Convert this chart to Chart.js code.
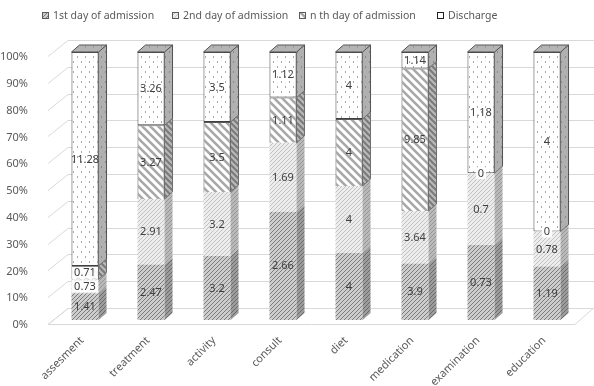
<!DOCTYPE html>
<html>
<head>
<meta charset="utf-8">
<script src="https://cdn.jsdelivr.net/npm/chart.js@4"></script>
<style>
  html, body { margin: 0; padding: 0; background: #ffffff; }
  #c { display: block; }
</style>
</head>
<body>
<canvas id="c" width="594" height="386"></canvas>
<script>
// Care-plan items and the amount recorded at each stage of the stay
const categories = ['assesment', 'treatment', 'activity', 'consult', 'diet', 'medication', 'examination', 'education'];
const firstDay  = [1.41, 2.47, 3.2, 2.66, 4, 3.9, 0.73, 1.19];
const secondDay = [0.73, 2.91, 3.2, 1.69, 4, 3.64, 0.7, 0.78];
const nthDay    = [0.71, 3.27, 3.5, 1.11, 4, 9.85, 0, 0];
const discharge = [11.28, 3.26, 3.5, 1.12, 4, 1.14, 1.18, 4];
const seriesNames = ['1st day of admission', '2nd day of admission', 'n th day of admission', 'Discharge'];
const percentTicks = [0, 10, 20, 30, 40, 50, 60, 70, 80, 90, 100];

const FONT = '"Noto Sans", "DejaVu Sans", sans-serif';
const canvas = document.getElementById('c');
const ctx = canvas.getContext('2d');

// ---- fill patterns -------------------------------------------------------
function tile(w, h, paint) {
  const c = document.createElement('canvas');
  c.width = w; c.height = h;
  paint(c.getContext('2d'), w, h);
  return ctx.createPattern(c, 'repeat');
}
function slash(bg, fg, s, lw) {           // "////"
  return tile(s, s, (g) => {
    g.fillStyle = bg; g.fillRect(0, 0, s, s);
    g.strokeStyle = fg; g.lineWidth = lw;
    g.beginPath();
    g.moveTo(0, s); g.lineTo(s, 0);
    g.moveTo(-1, 1); g.lineTo(1, -1);
    g.moveTo(s - 1, s + 1); g.lineTo(s + 1, s - 1);
    g.stroke();
  });
}
function backslash(bg, fg, s, lw) {       // "\\\\"
  return tile(s, s, (g) => {
    g.fillStyle = bg; g.fillRect(0, 0, s, s);
    g.strokeStyle = fg; g.lineWidth = lw;
    g.beginPath();
    g.moveTo(0, 0); g.lineTo(s, s);
    g.moveTo(s - 2, -2); g.lineTo(s + 2, 2);
    g.moveTo(-2, s - 2); g.lineTo(2, s + 2);
    g.stroke();
  });
}
function dots(bg, fg) {
  return tile(8, 10, (g) => {
    g.fillStyle = bg; g.fillRect(0, 0, 8, 10);
    g.fillStyle = fg;
    g.fillRect(1, 1, 1, 2);
    g.fillRect(5, 6, 1, 2);
  });
}

const fronts = [
  slash('#cdcdcd', '#7c7c7c', 4, 1),
  slash('#ededed', '#c2c2c2', 4, 1),
  backslash('#ffffff', '#a8a8a8', 8, 2.6),
  dots('#ffffff', '#a8a8a8')
];
const sides = [
  slash('#9c9c9c', '#6a6a6a', 4, 1),
  slash('#b9b9b9', '#969696', 4, 1),
  backslash('#b8b8b8', '#7a7a7a', 6, 2),
  dots('#b0b0b0', '#8a8a8a')
];
const topFace = dots('#b4b4b4', '#979797');
const borders = ['#8a8a8a', '#bdbdbd', '#5a5a5a', '#404040'];
const borderWidths = [0, 0, 1, 1];

// ---- share of each stage within its item (100% stacks) --------------------
const rawSeries = [firstDay, secondDay, nthDay, discharge];
const totals = categories.map((_, i) => rawSeries.reduce((s, arr) => s + arr[i], 0));
const shares = rawSeries.map(arr => arr.map((v, i) => v / totals[i] * 100));

// 3D offsets
const BAR_DX = 8, BAR_DY = 7;      // depth of each column
const WALL_BACK = 12;              // back wall sits this far above the column front
const FLOOR_FRONT = 4;             // floor front edge sits this far below the column front

const scenery = {
  id: 'scenery',
  beforeDatasetsDraw(chart) {
    const { ctx: g, chartArea: a, scales: { y } } = chart;
    const leftFront = a.left - 4, leftBack = a.left + 16;
    const rightFront = a.right - 5, rightBack = a.right + 13;
    g.save();
    g.lineWidth = 1;
    g.strokeStyle = '#d9d9d9';
    // floor
    const p0 = Math.round(y.getPixelForValue(0)) + 0.5;
    g.fillStyle = '#ffffff';
    g.beginPath();
    g.moveTo(leftFront, p0 + FLOOR_FRONT);
    g.lineTo(rightFront, p0 + FLOOR_FRONT);
    g.lineTo(rightBack, p0 - WALL_BACK);
    g.lineTo(leftBack, p0 - WALL_BACK);
    g.closePath();
    g.fill(); g.stroke();
    // back wall and side wall gridlines
    g.beginPath();
    percentTicks.forEach(v => {
      const p = Math.round(y.getPixelForValue(v)) + 0.5;
      g.moveTo(leftFront, p + FLOOR_FRONT);
      g.lineTo(leftBack, p - WALL_BACK);
      g.lineTo(chart.width, p - WALL_BACK);
    });
    g.stroke();
    g.restore();
  },
  afterDatasetsDraw(chart) {
    const g = chart.ctx;
    g.save();
    g.lineWidth = 1;
    const n = chart.data.datasets.length;
    for (let d = 0; d < n; d++) {
      const meta = chart.getDatasetMeta(d);
      meta.data.forEach((bar, i) => {
        const xr = bar.x + bar.width / 2;
        const top = Math.min(bar.y, bar.base), bot = Math.max(bar.y, bar.base);
        if (bot - top < 0.5) return;
        // right-hand side face
        g.fillStyle = sides[d];
        g.strokeStyle = '#6e6e6e';
        g.beginPath();
        g.moveTo(xr, bot);
        g.lineTo(xr, top);
        g.lineTo(xr + BAR_DX, top - BAR_DY);
        g.lineTo(xr + BAR_DX, bot - BAR_DY);
        g.closePath();
        g.fill();
        if (d >= 2) g.stroke();
      });
    }
    // top faces on the highest segment of every column
    const topMeta = chart.getDatasetMeta(n - 1);
    topMeta.data.forEach(bar => {
      const xl = bar.x - bar.width / 2, xr = bar.x + bar.width / 2;
      const t = Math.min(bar.y, bar.base);
      g.fillStyle = topFace;
      g.strokeStyle = '#555555';
      g.beginPath();
      g.moveTo(xl, t);
      g.lineTo(xl + BAR_DX, t - BAR_DY);
      g.lineTo(xr + BAR_DX, t - BAR_DY);
      g.lineTo(xr, t);
      g.closePath();
      g.fill(); g.stroke();
      g.beginPath();
      g.moveTo(xr + BAR_DX, t - BAR_DY);
      g.lineTo(xr + BAR_DX, bar.base - BAR_DY);
      g.stroke();
    });
    // value labels
    g.font = '11px ' + FONT;
    g.textAlign = 'center';
    g.textBaseline = 'middle';
    for (let d = 0; d < n; d++) {
      const meta = chart.getDatasetMeta(d);
      meta.data.forEach((bar, i) => {
        const txt = String(rawSeries[d][i]);
        const cy = (bar.y + bar.base) / 2;
        const h = Math.abs(bar.base - bar.y);
        if (h < 16) {
          const w = g.measureText(txt).width + 4;
          g.fillStyle = 'rgba(255,255,255,0.92)';
          g.fillRect(bar.x - w / 2, cy - 6, w, 12);
        }
        g.fillStyle = '#404040';
        g.fillText(txt, bar.x, cy + 0.5);
      });
    }
    g.restore();
  },
  afterDraw(chart) {
    // legend row
    const g = chart.ctx;
    g.save();
    g.font = '10.5px ' + FONT;
    g.textBaseline = 'middle';
    g.textAlign = 'left';
    const starts = [42, 172, 299, 437];
    seriesNames.forEach((name, d) => {
      const x = starts[d];
      g.fillStyle = d === 3 ? '#ffffff' : fronts[d];
      g.fillRect(x, 12, 7, 7);
      g.strokeStyle = d === 3 ? '#202020' : '#5a5a5a';
      g.lineWidth = 1;
      g.strokeRect(x + 0.5, 12.5, 6, 6);
      g.fillStyle = '#595959';
      g.fillText(name, x + 11, 16);
    });
    g.restore();
  }
};

new Chart(ctx, {
  type: 'bar',
  data: {
    labels: categories,
    datasets: seriesNames.map((name, d) => ({
      label: name,
      data: shares[d],
      backgroundColor: fronts[d],
      borderColor: borders[d],
      borderWidth: borderWidths[d],
      borderSkipped: d === 3 ? false : 'start',
      barPercentage: 0.41,
      categoryPercentage: 1
    }))
  },
  options: {
    responsive: false,
    animation: false,
    devicePixelRatio: 1,
    layout: { padding: { top: 52, right: 14, bottom: 0, left: 0 } },
    plugins: { legend: { display: false }, tooltip: { enabled: false } },
    scales: {
      x: {
        stacked: true,
        grid: { display: false },
        border: { display: false },
        ticks: {
          color: '#595959',
          font: { family: FONT, size: 11 },
          minRotation: 45, maxRotation: 45,
          padding: 6,
          labelOffset: -3
        },
        afterFit: s => { s.height = 66; }
      },
      y: {
        stacked: true,
        min: 0, max: 100,
        afterBuildTicks: s => { s.ticks = percentTicks.map(v => ({ value: v })); },
        grid: { display: false },
        border: { display: false },
        ticks: {
          color: '#595959',
          font: { family: FONT, size: 11 },
          padding: 16,
          labelOffset: 5,
          callback: v => v + '%'
        },
        afterFit: s => { s.width = 52; }
      }
    }
  },
  plugins: [scenery]
});
</script>
</body>
</html>
